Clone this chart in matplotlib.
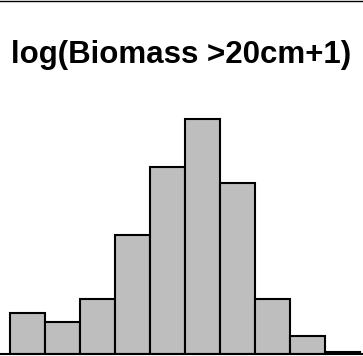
import matplotlib
matplotlib.use("Agg")
import matplotlib.pyplot as plt
from matplotlib.lines import Line2D
import numpy as np

# bin edges of the histogram (log scale values) and counts per bin
bin_edges = [0.0, 0.5, 1.0, 1.5, 2.0, 2.5, 3.0, 3.5, 4.0, 4.5, 5.0]
counts = [18, 14, 24, 52, 82, 103, 75, 24, 8, 1]
title = "log(Biomass >20cm+1)"

W, H = 363, 356
fig = plt.figure(figsize=(W / 100, H / 100), dpi=100)
ax = fig.add_axes([0, 2 / H, 1, 1 - 2 / H])

lefts = bin_edges[:-1]
widths = np.diff(bin_edges)
ax.bar(lefts, counts, width=widths, align="edge", color="#bebebe",
       edgecolor="black", linewidth=1.5)

px_per_unit = 350 / (bin_edges[-1] - bin_edges[0])
ax.set_xlim(bin_edges[0] - 10 / px_per_unit, bin_edges[-1] + 3 / px_per_unit)
ax.set_ylim(0, 354 / 2.28)

for s in ["top", "left", "right"]:
    ax.spines[s].set_visible(False)
ax.spines["bottom"].set_linewidth(1.5)
ax.set_xticks([])
ax.set_yticks([])
ax.patch.set_alpha(0)

fig.text(181.5 / W, (H - 63) / H, title, ha="center", va="baseline",
         fontsize=22.5, fontweight="bold", family="Liberation Sans")

fig.add_artist(Line2D([0, 1], [1 - 0.6 / H, 1 - 0.6 / H],
                      transform=fig.transFigure, color="black", linewidth=1.0))

fig.savefig("out.png", dpi=100)
